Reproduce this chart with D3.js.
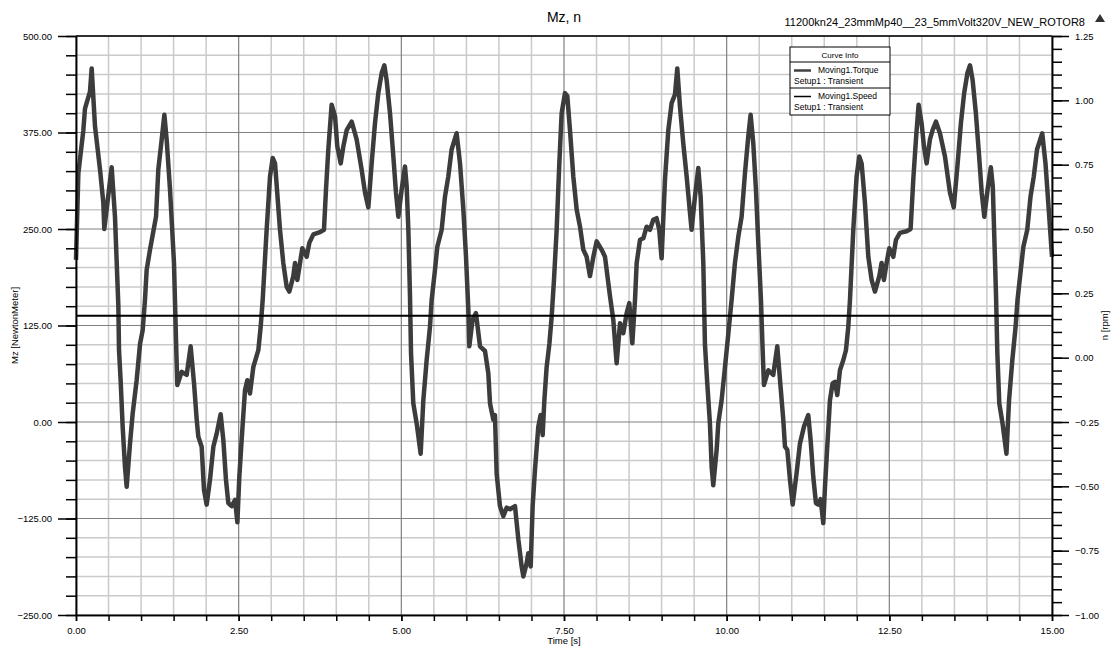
<!DOCTYPE html>
<html>
<head>
<meta charset="utf-8">
<script src="https://cdn.jsdelivr.net/npm/d3@7"></script>
<style>
  body { margin: 0; background: #fff; }
  text { font-family: "Liberation Sans", Arial, sans-serif; fill: #000; }
</style>
</head>
<body>
<div id="chart"></div>
<script>
// values
var timeS = [0.00, 0.036, 0.113, 0.138, 0.215, 0.241, 0.292, 0.369, 0.420, 0.435, 0.548, 0.599, 0.651, 0.661, 0.686, 0.717, 0.753, 0.779,
  0.830, 0.871, 0.932, 0.984, 1.025, 1.060, 1.086, 1.137, 1.230, 1.265, 1.317, 1.358, 1.393, 1.445, 1.506, 1.521, 1.537, 1.557,
  1.624, 1.701, 1.762, 1.814, 1.855, 1.880, 1.931, 1.967, 2.008, 2.059, 2.111, 2.162, 2.223, 2.264, 2.305, 2.341, 2.392, 2.444,
  2.480, 2.510, 2.546, 2.597, 2.633, 2.674, 2.725, 2.802, 2.838, 2.869, 2.930, 2.982, 3.023, 3.059, 3.135, 3.186, 3.238, 3.279,
  3.340, 3.366, 3.402, 3.443, 3.478, 3.545, 3.586, 3.648, 3.750, 3.811, 3.842, 3.878, 3.929, 3.981, 4.016, 4.068, 4.109, 4.160,
  4.237, 4.313, 4.390, 4.442, 4.493, 4.544, 4.595, 4.646, 4.698, 4.739, 4.774, 4.826, 4.877, 4.918, 4.954, 5.005, 5.056, 5.082,
  5.108, 5.133, 5.149, 5.184, 5.236, 5.297, 5.338, 5.389, 5.440, 5.466, 5.517, 5.553, 5.620, 5.671, 5.722, 5.773, 5.850, 5.902,
  5.953, 5.994, 6.030, 6.045, 6.096, 6.147, 6.209, 6.286, 6.337, 6.363, 6.414, 6.439, 6.465, 6.516, 6.568, 6.619, 6.670, 6.747,
  6.798, 6.849, 6.875, 6.926, 6.952, 6.988, 7.018, 7.054, 7.105, 7.141, 7.172, 7.198, 7.233, 7.275, 7.310, 7.346, 7.387, 7.428,
  7.464, 7.515, 7.551, 7.592, 7.643, 7.695, 7.746, 7.797, 7.848, 7.899, 7.951, 8.002, 8.079, 8.130, 8.207, 8.258, 8.309, 8.361,
  8.412, 8.463, 8.504, 8.550, 8.591, 8.617, 8.668, 8.719, 8.770, 8.821, 8.872, 8.923, 8.964, 9.000, 9.052, 9.103, 9.154, 9.205,
  9.241, 9.282, 9.333, 9.385, 9.436, 9.461, 9.513, 9.564, 9.600, 9.641, 9.666, 9.702, 9.743, 9.769, 9.794, 9.846, 9.871, 9.922,
  9.974, 10.025, 10.076, 10.127, 10.179, 10.230, 10.281, 10.332, 10.368, 10.409, 10.450, 10.486, 10.527, 10.553, 10.573, 10.640,
  10.716, 10.778, 10.829, 10.870, 10.896, 10.932, 10.973, 11.014, 11.075, 11.126, 11.188, 11.254, 11.290, 11.331, 11.372, 11.408,
  11.444, 11.485, 11.511, 11.546, 11.587, 11.628, 11.664, 11.700, 11.741, 11.792, 11.833, 11.869, 11.895, 11.946, 11.997, 12.038,
  12.074, 12.125, 12.177, 12.228, 12.279, 12.346, 12.381, 12.417, 12.458, 12.499, 12.561, 12.602, 12.663, 12.765, 12.827, 12.868,
  12.909, 12.950, 12.996, 13.032, 13.073, 13.124, 13.165, 13.217, 13.278, 13.355, 13.432, 13.49, 13.55, 13.60, 13.65, 13.70,
  13.74, 13.78, 13.83, 13.88, 13.92, 13.96, 14.01, 14.06, 14.09, 14.11, 14.14, 14.16, 14.19, 14.24, 14.30, 14.34, 14.39, 14.44,
  14.47, 14.52, 14.56, 14.62, 14.67, 14.72, 14.77, 14.85, 14.90, 14.95, 15.00];
var torqueNm = [210, 322, 378, 406, 428, 458, 383, 327, 284, 250, 330, 266, 150, 93, 54, -6, -58, -84,
  -28, 11, 54, 101, 119, 158, 197, 223, 266, 327, 366, 398, 366, 301, 206, 158, 106, 48,
  65, 61, 98, 50, 3, -19, -32, -88, -107, -75, -32, -15, 10, -23, -75, -105, -109, -101,
  -130, -71, -23, 41, 54, 37, 71, 93, 123, 158, 249, 318, 342, 335, 249, 206, 175, 169,
  189, 206, 184, 206, 225, 214, 232, 243, 246, 249, 301, 353, 411, 396, 357, 335, 357, 378,
  389, 366, 327, 297, 278, 335, 387, 426, 452, 462, 443, 400, 344, 297, 266, 301, 331, 305,
  249, 163, 89, 24, -2, -41, 28, 80, 123, 158, 197, 227, 249, 292, 318, 353, 374, 335,
  275, 214, 145, 98, 133, 141, 98, 92, 63, 24, 3, 9, -67, -109, -122, -111, -113, -109,
  -152, -187, -200, -183, -170, -187, -109, -62, -6, 9, -17, 28, 71, 101, 136, 184, 249, 335,
  400, 426, 422, 378, 318, 275, 253, 223, 214, 189, 214, 234, 223, 214, 163, 132, 76, 128,
  115, 141, 154, 102, 158, 206, 236, 238, 253, 249, 262, 264, 249, 212, 314, 378, 413, 424,
  458, 409, 361, 318, 271, 249, 292, 329, 292, 206, 101, 50, -2, -58, -82, -36, -2, 28,
  71, 114, 158, 206, 240, 266, 322, 370, 398, 361, 301, 232, 158, 93, 48, 67,
  61, 98, 45, 3, -32, -36, -75, -107, -66, -28, -6, 9, -23, -71, -105, -107,
  -100, -131, -84, -32, 28, 50, 52, 35, 67, 80, 93, 123, 158, 249, 318, 344,
  335, 284, 214, 184, 169, 189, 206, 184, 206, 225, 214, 236, 245, 247, 250, 314,
  366, 411, 387, 357, 335, 366, 378, 389, 374, 344, 297, 278, 335, 387, 426, 452,
  462, 443, 400, 344, 297, 266, 301, 330, 305, 249, 163, 89, 24, -2, -41, 28, 80, 123,
  158, 197, 227, 249, 292, 318, 353, 374, 335, 275, 214];
var speedT = [0, 15];
var speedRpm = [0.163, 0.163];

var xTicks = [0, 2.5, 5, 7.5, 10, 12.5, 15];
var leftTicks = [-250, -125, 0, 125, 250, 375, 500];
var rightTicks = [-1, -0.75, -0.5, -0.25, 0, 0.25, 0.5, 0.75, 1, 1.25];

var width = 1114, height = 646;
var margin = { top: 36, right: 62, bottom: 31, left: 76 };

var x = d3.scaleLinear().domain([0, 15]).range([margin.left, width - margin.right]);
var yL = d3.scaleLinear().domain([-250, 500]).range([height - margin.bottom, margin.top]);
var yR = d3.scaleLinear().domain([-1, 1.25]).range([height - margin.bottom, margin.top]);
var fmt = d3.format(".2f");

var svg = d3.select("#chart").append("svg")
    .attr("width", width)
    .attr("height", height);

// grid
var grid = svg.append("g");
var minorY = d3.range(-250, 501, 25).filter(function (d) { return leftTicks.indexOf(d) < 0; });
var minorX = d3.range(0, 15.01, 0.5).filter(function (d) { return xTicks.indexOf(d) < 0; });

grid.selectAll(".hmin").data(minorY).enter().append("line")
    .attr("x1", x(0)).attr("x2", x(15))
    .attr("y1", function (d) { return yL(d); }).attr("y2", function (d) { return yL(d); })
    .attr("stroke", "#cacaca").attr("stroke-width", 1.5);
grid.selectAll(".vmin").data(minorX).enter().append("line")
    .attr("y1", yL(-250)).attr("y2", yL(500))
    .attr("x1", function (d) { return x(d); }).attr("x2", function (d) { return x(d); })
    .attr("stroke", "#cacaca").attr("stroke-width", 1.5);
grid.selectAll(".hmaj").data(leftTicks).enter().append("line")
    .attr("x1", x(0)).attr("x2", x(15))
    .attr("y1", function (d) { return yL(d); }).attr("y2", function (d) { return yL(d); })
    .attr("stroke", "#808080").attr("stroke-width", 1.2);
grid.selectAll(".vmaj").data(xTicks).enter().append("line")
    .attr("y1", yL(-250)).attr("y2", yL(500))
    .attr("x1", function (d) { return x(d); }).attr("x2", function (d) { return x(d); })
    .attr("stroke", "#808080").attr("stroke-width", 1.2);

// top frame line
svg.append("line")
    .attr("x1", x(0)).attr("x2", x(15)).attr("y1", yL(500)).attr("y2", yL(500))
    .attr("stroke", "#000").attr("stroke-width", 1.5);

// curves
var torqueLine = d3.line()
    .x(function (d, i) { return x(timeS[i]); })
    .y(function (d) { return yL(d); });
svg.append("path")
    .datum(torqueNm)
    .attr("d", torqueLine)
    .attr("fill", "none")
    .attr("stroke", "#3c3c3c")
    .attr("stroke-width", 4.5)
    .attr("stroke-linejoin", "round");

var speedLine = d3.line()
    .x(function (d, i) { return x(speedT[i]); })
    .y(function (d) { return yR(d); });
svg.append("path")
    .datum(speedRpm)
    .attr("d", speedLine)
    .attr("fill", "none")
    .attr("stroke", "#000")
    .attr("stroke-width", 2);

// axes
function styleAxis(g) {
    g.selectAll("path, line").attr("stroke", "#000").attr("stroke-width", 1.5);
    g.selectAll("text").style("font-size", "9.5px").attr("fill", "#000");
}

svg.append("g")
    .attr("transform", "translate(" + x(0) + ",0)")
    .call(d3.axisLeft(yL).tickValues(d3.range(-250, 501, 25)).tickSize(10).tickSizeOuter(0).tickFormat(""))
    .call(styleAxis);
svg.append("g")
    .attr("transform", "translate(" + x(0) + ",0)")
    .call(d3.axisLeft(yL).tickValues(leftTicks).tickSize(18).tickSizeOuter(0).tickPadding(6).tickFormat(fmt))
    .call(styleAxis);

svg.append("g")
    .attr("transform", "translate(" + x(15) + ",0)")
    .call(d3.axisRight(yR).tickValues(d3.range(-1, 1.2501, 0.05)).tickSize(10).tickSizeOuter(0).tickFormat(""))
    .call(styleAxis);
svg.append("g")
    .attr("transform", "translate(" + x(15) + ",0)")
    .call(d3.axisRight(yR).tickValues(rightTicks).tickSize(17).tickSizeOuter(0).tickPadding(6).tickFormat(fmt))
    .call(styleAxis);

svg.append("g")
    .attr("transform", "translate(0," + yL(-250) + ")")
    .call(d3.axisBottom(x).tickValues(d3.range(0, 15.01, 0.5)).tickSize(6).tickSizeOuter(0).tickFormat(""))
    .call(styleAxis);
svg.append("g")
    .attr("transform", "translate(0," + yL(-250) + ")")
    .call(d3.axisBottom(x).tickValues(xTicks).tickSize(6).tickSizeOuter(0).tickPadding(6).tickFormat(fmt))
    .call(styleAxis);

// titles
svg.append("text")
    .attr("x", (x(0) + x(15)) / 2).attr("y", 22)
    .attr("text-anchor", "middle")
    .style("font-size", "14px")
    .text("Mz, n");
svg.append("text")
    .attr("x", 1085).attr("y", 26)
    .attr("text-anchor", "end")
    .style("font-size", "11px")
    .text("11200kn24_23mmMp40__23_5mmVolt320V_NEW_ROTOR8");
svg.append("path")
    .attr("d", "M1100,14 L1105,22 L1095,22 Z")
    .attr("fill", "#333");

svg.append("text")
    .attr("x", (x(0) + x(15)) / 2).attr("y", 644)
    .attr("text-anchor", "middle")
    .style("font-size", "9.5px")
    .text("Time [s]");
svg.append("text")
    .attr("transform", "translate(18," + (yL(-250) + yL(500)) / 2 + ") rotate(-90)")
    .attr("text-anchor", "middle")
    .style("font-size", "9.5px")
    .text("Mz [NewtonMeter]");
svg.append("text")
    .attr("transform", "translate(1108," + (yL(-250) + yL(500)) / 2 + ") rotate(-90)")
    .attr("text-anchor", "middle")
    .style("font-size", "9.5px")
    .text("n [rpm]");

// legend
var legend = svg.append("g").attr("transform", "translate(790,47)");
legend.append("rect")
    .attr("width", 100).attr("height", 68)
    .attr("fill", "#fff").attr("stroke", "#000").attr("stroke-width", 1);
legend.append("line").attr("x1", 0).attr("x2", 100).attr("y1", 15).attr("y2", 15).attr("stroke", "#000");
legend.append("line").attr("x1", 0).attr("x2", 100).attr("y1", 41).attr("y2", 41).attr("stroke", "#000");
legend.append("text").attr("x", 50).attr("y", 11).attr("text-anchor", "middle")
    .style("font-size", "8px").text("Curve Info");

var legendItems = [
    { name: "Moving1.Torque", color: "#404040", w: 2.5 },
    { name: "Moving1.Speed", color: "#000", w: 1.5 }
];
legendItems.forEach(function (d, i) {
    var y0 = 15 + i * 26;
    legend.append("line")
        .attr("x1", 4).attr("x2", 21).attr("y1", y0 + 8.5).attr("y2", y0 + 8.5)
        .attr("stroke", d.color).attr("stroke-width", d.w);
    legend.append("text").attr("x", 28).attr("y", y0 + 11)
        .style("font-size", "8.5px").text(d.name);
    legend.append("text").attr("x", 4).attr("y", y0 + 22)
        .style("font-size", "8.5px").text("Setup1 : Transient");
});
</script>
</body>
</html>
